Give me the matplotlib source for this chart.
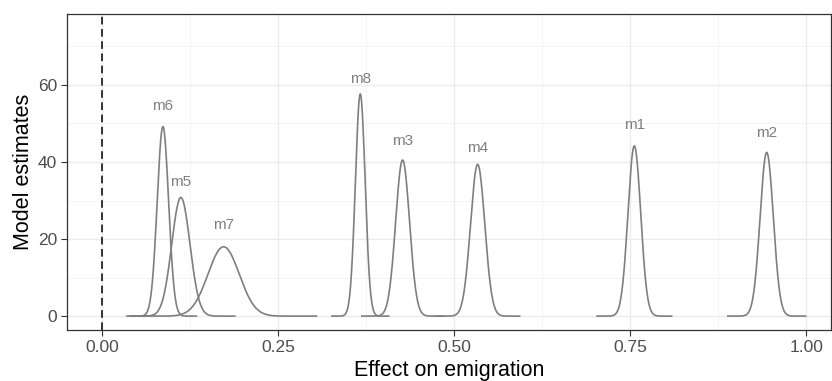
import numpy as np
import matplotlib
matplotlib.use("Agg")
import matplotlib.pyplot as plt
from matplotlib.ticker import MultipleLocator

plt.rcParams['font.family'] = ['Liberation Sans', 'DejaVu Sans']

# Data: model labels, posterior means and standard deviations (normal densities)
models = ["m6", "m5", "m7", "m8", "m3", "m4", "m1", "m2"]
means = [0.0862, 0.1117, 0.1724, 0.3665, 0.4266, 0.5332, 0.7557, 0.9437]
sds = [0.00811, 0.01295, 0.02216, 0.00692, 0.00985, 0.01013, 0.00903, 0.00939]
label_y = [54.5, 34.8, 23.6, 61.6, 45.5, 43.5, 49.6, 47.6]
x_ticks = [0.00, 0.25, 0.50, 0.75, 1.00]
x_tick_labels = ["0.00", "0.25", "0.50", "0.75", "1.00"]
y_ticks = [0, 20, 40, 60]

W, H = 832, 381
fig = plt.figure(figsize=(W / 100, H / 100), dpi=100)
ax = fig.add_axes([67 / W, (H - 330) / H, (831 - 67) / W, (330 - 14) / H])

line_col = "#7f7f7f"
for m, mu, sd, ly in zip(models, means, sds, label_y):
    x = np.linspace(mu - 6 * sd, mu + 6 * sd, 400)
    y = np.exp(-0.5 * ((x - mu) / sd) ** 2) / (sd * np.sqrt(2 * np.pi))
    ax.plot(x, y, color=line_col, lw=1.2, zorder=3, solid_capstyle='butt')
    ax.text(mu, ly, m, color=line_col, fontsize=11, ha='center', va='center', zorder=4)

ax.axvline(0, color='black', lw=1.1, ls=(0, (5, 3)), zorder=2)

ax.set_xlim(-0.05, 1.035)
ax.set_ylim(-3.6, 78.4)
ax.set_xticks(x_ticks)
ax.set_xticklabels(x_tick_labels)
ax.set_yticks(y_ticks)
ax.xaxis.set_minor_locator(MultipleLocator(0.125))
ax.yaxis.set_minor_locator(MultipleLocator(10))

ax.grid(which='major', color='#ebebeb', lw=1.0, zorder=0)
ax.grid(which='minor', color='#f2f2f2', lw=0.6, zorder=0)
ax.set_axisbelow(True)

for s in ax.spines.values():
    s.set_color('#333333')
    s.set_linewidth(0.9)

ax.tick_params(which='major', direction='out', length=4, width=0.8, color='#333333',
               labelsize=12.5, labelcolor='#4d4d4d', pad=3)
ax.tick_params(which='minor', length=0)

ax.set_xlabel("Effect on emigration", fontsize=15.5, color='black', labelpad=3.5)
ax.set_ylabel("Model estimates", fontsize=15.5, color='black', labelpad=3)

fig.savefig("out.png", dpi=100)
